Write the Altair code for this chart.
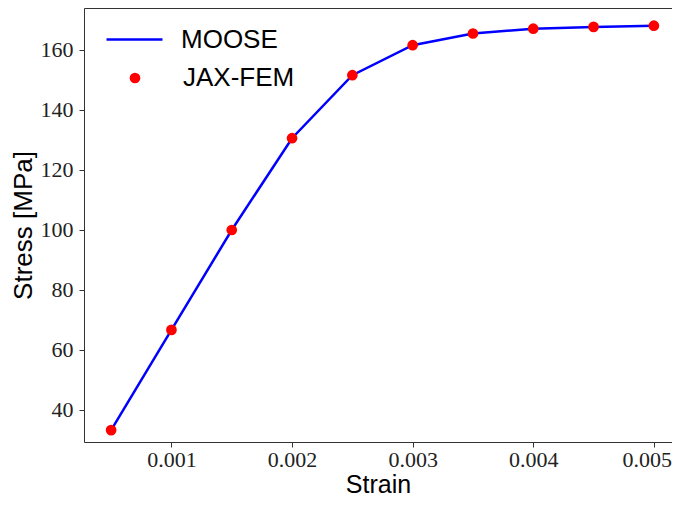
import altair as alt
import pandas as pd

# ---- data ----
strain = [0.0005, 0.0010, 0.0015, 0.0020, 0.0025, 0.0030, 0.0035, 0.0040, 0.0045, 0.0050]
moose_stress = [33.3, 66.7, 100.0, 130.6, 151.6, 161.6, 165.5, 167.1, 167.7, 168.1]
jax_stress = [33.3, 66.7, 100.0, 130.6, 151.6, 161.6, 165.5, 167.1, 167.7, 168.1]

x_ticks = [0.001, 0.002, 0.003, 0.004, 0.005]
y_ticks = [40, 60, 80, 100, 120, 140, 160]
x_domain = [0.000275, 0.0051504]
y_domain = [29.33, 174.0]

df_line = pd.DataFrame({"Strain": strain, "Stress": moose_stress, "series": ["MOOSE"] * len(strain)})
df_pts = pd.DataFrame({"Strain": strain, "Stress": jax_stress, "series": ["JAX-FEM"] * len(strain)})

SERIF = "Liberation Serif"
SANS = "Liberation Sans"
SPINE = "#333"

xs = alt.Scale(domain=x_domain, nice=False, zero=False)
ys = alt.Scale(domain=y_domain, nice=False, zero=False)

x_axis = alt.Axis(values=x_ticks, format=".3f", title="Strain", grid=False, domain=True,
                  domainColor=SPINE, domainWidth=1,
                  tickSize=5, tickColor=SPINE, tickWidth=1, labelFont=SERIF, labelFontSize=22,
                  labelColor="#222", labelPadding=2, titleFont=SANS, titleFontSize=25,
                  titleFontWeight="normal", titleColor="black", titleBaseline="alphabetic",
                  titlePadding=22, labelFlush=False,
                  labelOffset={"condition": {"test": "datum.value >= 0.0049", "value": -7}, "value": 0})
y_axis = alt.Axis(values=y_ticks, title="Stress [MPa]", grid=False, domain=True,
                  domainColor=SPINE, domainWidth=1,
                  tickSize=5, tickColor=SPINE, tickWidth=1, labelFont=SERIF, labelFontSize=22,
                  labelColor="#222", labelPadding=6, titleFont=SANS, titleFontSize=26,
                  titleFontWeight="normal", titleColor="black", titlePadding=4, labelFlush=False)
top_axis = alt.Axis(orient="top", labels=False, ticks=False, title=None, grid=False,
                    domain=True, domainColor=SPINE, domainWidth=1)

line = alt.Chart(df_line).mark_line(strokeWidth=2.5, clip=False).encode(
    x=alt.X("Strain:Q", scale=xs, axis=x_axis),
    y=alt.Y("Stress:Q", scale=ys, axis=y_axis),
    color=alt.Color("series:N",
                    scale=alt.Scale(domain=["MOOSE"], range=["blue"]),
                    legend=alt.Legend(orient="none", legendX=21, legendY=2, title=None,
                                      symbolType="stroke", symbolSize=3136, symbolStrokeWidth=2.5,
                                      labelFont=SANS, labelFontSize=26, labelColor="black",
                                      labelOffset=17, padding=0)),
)

pts = alt.Chart(df_pts).mark_point(filled=True, size=115, opacity=1, clip=False).encode(
    x=alt.X("Strain:Q", scale=xs, axis=top_axis),
    y=alt.Y("Stress:Q", scale=ys),
    color=alt.Color("series:N",
                    scale=alt.Scale(domain=["JAX-FEM"], range=["red"]),
                    legend=alt.Legend(orient="none", legendX=38, legendY=57, title=None,
                                      symbolType="circle", symbolSize=115,
                                      labelFont=SANS, labelFontSize=26, labelColor="black",
                                      labelOffset=35, padding=0)),
)

chart = alt.layer(line, pts).resolve_scale(color="independent").resolve_legend(
    color="independent").resolve_axis(x="independent").properties(
    width=588,
    height=434,
    autosize=alt.AutoSizeParams(type="none"),
    padding={"left": 76, "top": 0, "right": 0, "bottom": 58},
).configure_view(stroke=None).configure(background="white")

chart.save("out.html", embed_options={"renderer": "svg", "actions": False})
